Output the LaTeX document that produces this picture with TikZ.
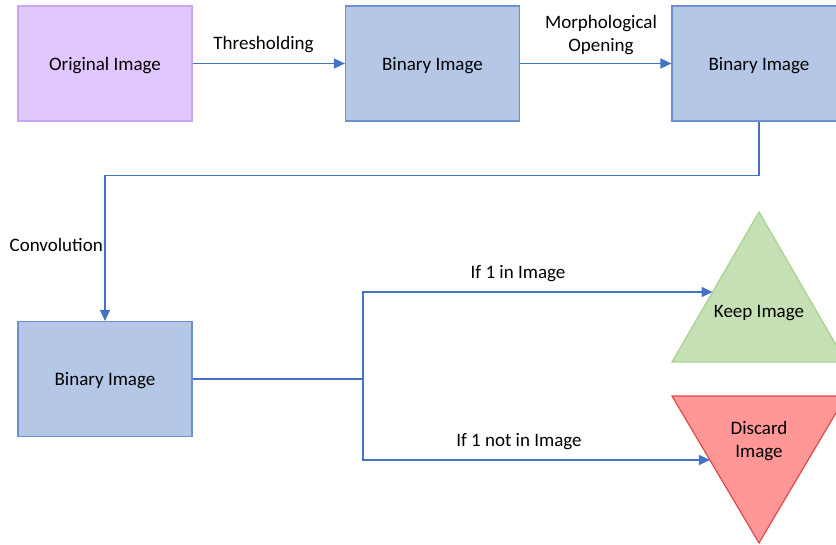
\documentclass[tikz,border=0pt]{standalone}
\usepackage{fontspec}
\setmainfont{Carlito}
\usetikzlibrary{arrows.meta}
\definecolor{purpfill}{HTML}{E0C8FF}
\definecolor{purpline}{HTML}{C9A6F2}
\definecolor{bluefill}{HTML}{B4C7E7}
\definecolor{blueline}{HTML}{6E8FD0}
\definecolor{conncol}{HTML}{4472C4}
\definecolor{greenfill}{HTML}{C5E0B4}
\definecolor{greenline}{HTML}{A9D18E}
\definecolor{redfill}{HTML}{FF9797}
\definecolor{redline}{HTML}{E04848}
\begin{document}
\begin{tikzpicture}[x=1pt,y=-1pt,
  font=\fontsize{19}{23}\selectfont,
  box/.style={draw, line width=1.2pt, minimum width=174pt, minimum height=115pt, inner sep=0pt, align=center, text depth=0pt, text height=14pt},
  bluebox/.style={box, fill=bluefill, draw=blueline},
  conn/.style={draw=conncol, line width=1.5pt},
  arr/.style={conn, -{Triangle[length=11pt,width=10pt]}},
  lbl/.style={inner sep=0pt, align=center, text=black}]
\useasboundingbox (0,0) rectangle (836,545);
\clip (0,0) rectangle (836,545);
% boxes
\node[box, fill=purpfill, draw=purpline] (orig) at (105,63.5) {Original Image};
\node[bluebox] (bin1) at (432.5,63.5) {Binary Image};
\node[bluebox] (bin2) at (759,63.5) {Binary Image};
\node[bluebox] (bin3) at (105,379) {Binary Image};
% triangles
\coordinate (kA) at (759,212);
\coordinate (kL) at (672,362);
\coordinate (kR) at (846,362);
\path[fill=greenfill, draw=greenline, line width=1.2pt] (kA) -- (kL) -- (kR) -- cycle;
\node[lbl] (keep) at (759,313.5) {Keep Image};
\coordinate (dL) at (672,396);
\coordinate (dR) at (846,396);
\coordinate (dB) at (759,543);
\path[fill=redfill, draw=redline, line width=1.2pt] (dL) -- (dR) -- (dB) -- cycle;
\node[lbl] (discard) at (759,441.5) {Discard\\Image};
% connection points
\coordinate (kE) at (712.6,292);
\coordinate (dE) at (709.9,460);
\coordinate (split) at (363,379);
% connectors
\draw[arr] (orig.east) -- (bin1.west);
\draw[arr] (bin1.east) -- (bin2.west);
\draw[arr] (bin2.south) -- ++(0,54) -| (bin3.north);
\draw[conn] (bin3.east) -- (split);
\draw[arr] (split) |- (kE);
\draw[arr] (split) |- (dE);
% labels
\node[lbl] (thr) at (263.5,44.5) {Thresholding};
\node[lbl] (morph) at (601,35) {Morphological\\Opening};
\node[lbl, anchor=east] (conv) at (103,245) {Convolution};
\node[lbl] (ifin) at (518,273.5) {If 1 in Image};
\node[lbl] (ifnot) at (519,441.5) {If 1 not in Image};
\end{tikzpicture}
\end{document}
